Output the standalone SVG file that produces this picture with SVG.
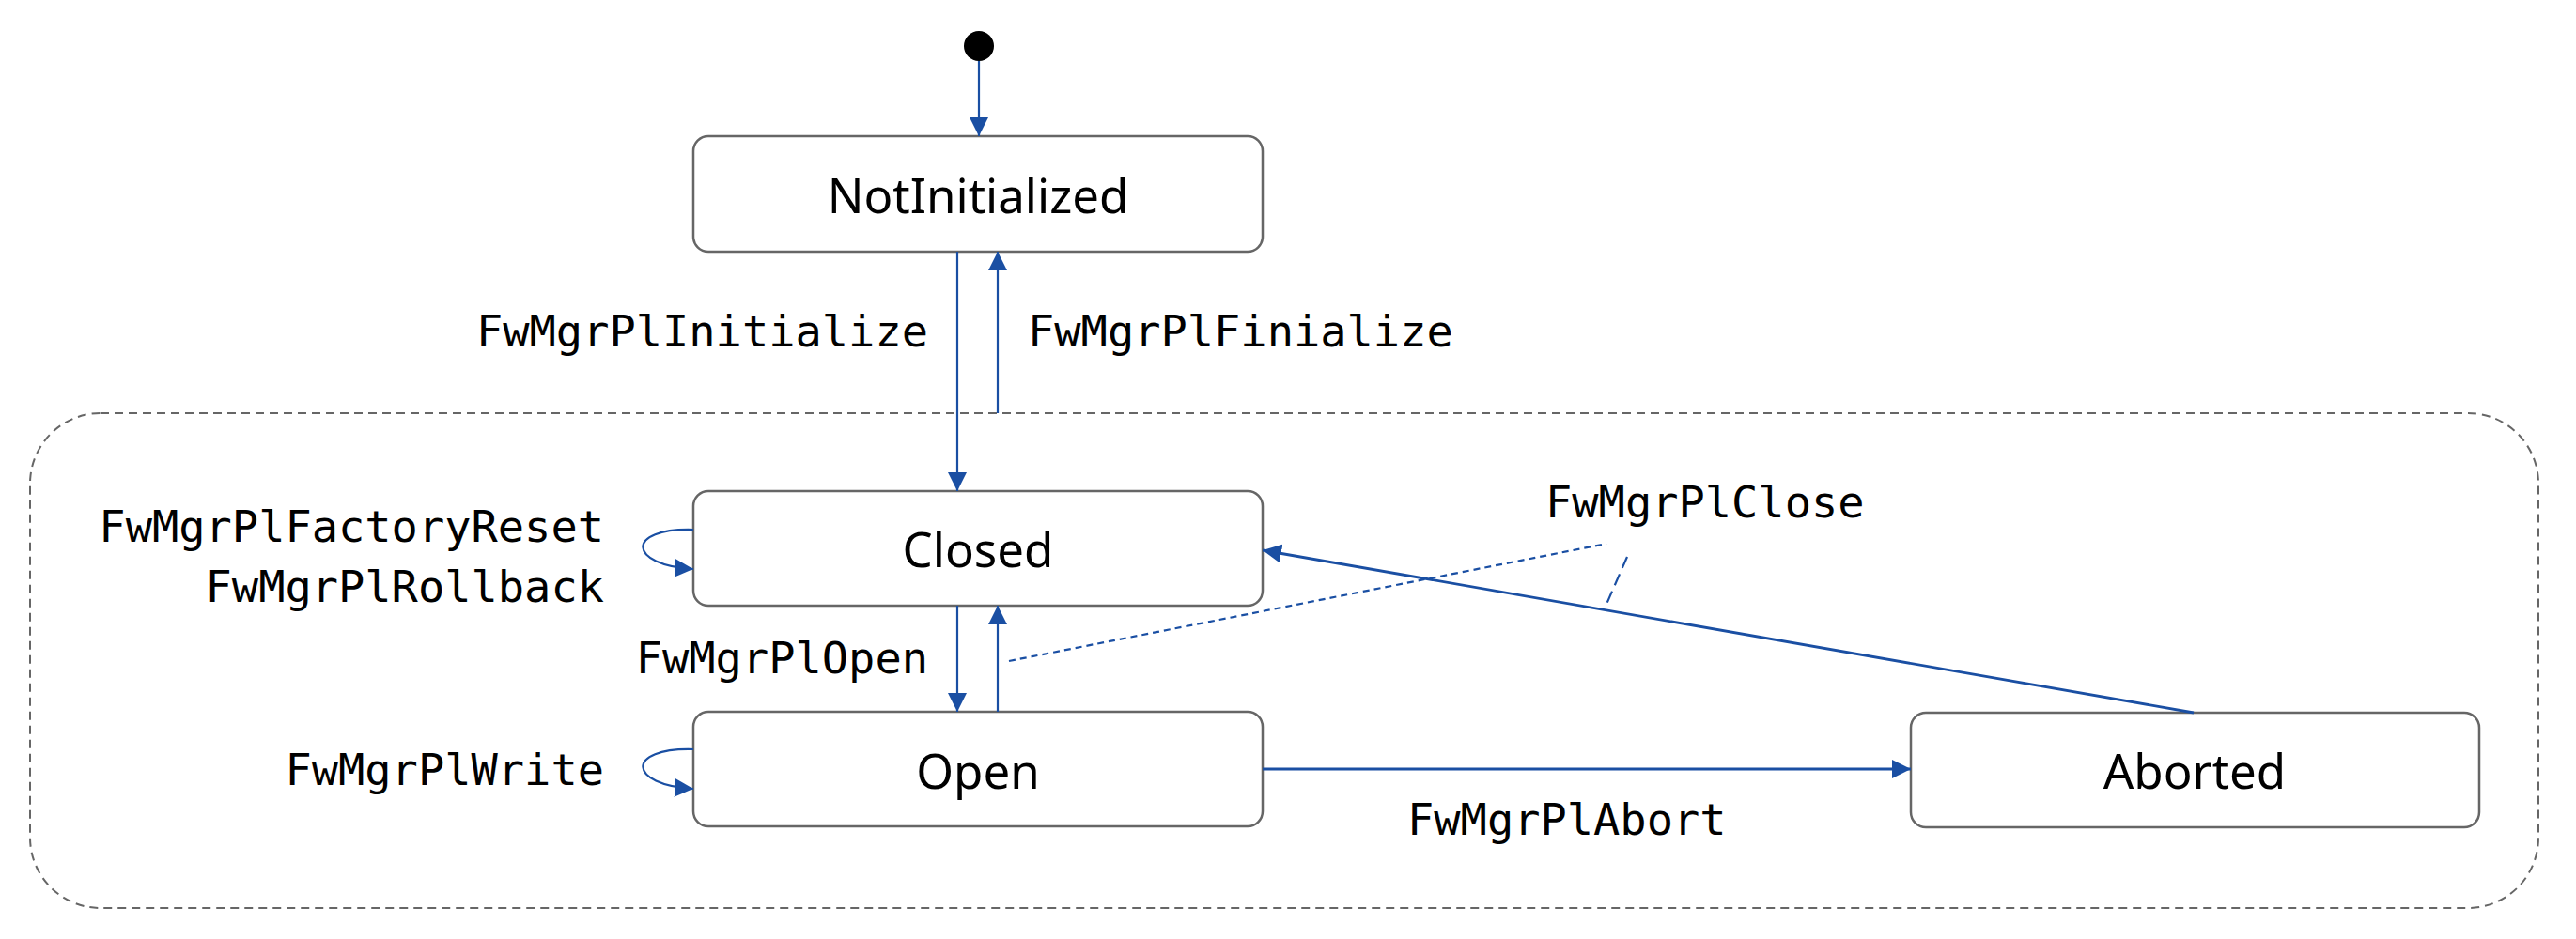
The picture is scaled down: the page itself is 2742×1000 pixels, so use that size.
<svg xmlns="http://www.w3.org/2000/svg" width="2742" height="1000" viewBox="0 0 2742 1000">
<style>
.state rect{fill:#fff;stroke:#666;stroke-width:2.5}
.state text{font-family:"Noto Sans","Open Sans",sans-serif;font-size:51px;fill:#000;text-anchor:middle}
.lbl{font-family:"DejaVu Sans Mono","Liberation Mono",monospace;font-size:47px;fill:#000}
.end{text-anchor:end}
.conn{fill:none;stroke:#1a4fa3;stroke-width:2.2}
.thick{stroke-width:2.8}
</style>
<defs>
<marker id="arr" markerWidth="20" markerHeight="20" refX="20" refY="10" orient="auto" markerUnits="userSpaceOnUse">
<path d="M0,0 L20,10 L0,20 Z" fill="#1a4fa3"/>
</marker>
</defs>
<rect id="composite" x="32" y="440" width="2670" height="527" rx="75" ry="75" fill="none" stroke="#666" stroke-width="2" stroke-dasharray="9 6"/>
<g id="initial"><circle cx="1042" cy="49" r="16" fill="#000"/></g>
<g id="NotInitialized" class="state"><rect x="738" y="145" width="606" height="123" rx="16"/><text x="1041" y="227">NotInitialized</text></g>
<g id="Closed" class="state"><rect x="738" y="523" width="606" height="122" rx="16"/><text x="1041" y="604">Closed</text></g>
<g id="Open" class="state"><rect x="738" y="758" width="606" height="122" rx="16"/><text x="1041" y="840">Open</text></g>
<g id="Aborted" class="state"><rect x="2034" y="759" width="605" height="122" rx="16"/><text x="2336" y="840">Aborted</text></g>
<g id="connectors">
<line class="conn" x1="1042" y1="65" x2="1042" y2="145" marker-end="url(#arr)"/>
<line class="conn" x1="1019" y1="268" x2="1019" y2="523" marker-end="url(#arr)"/>
<line class="conn" x1="1062" y1="440" x2="1062" y2="268" marker-end="url(#arr)"/>
<line class="conn" x1="1019" y1="645" x2="1019" y2="758" marker-end="url(#arr)"/>
<line class="conn" x1="1062" y1="758" x2="1062" y2="645" marker-end="url(#arr)"/>
<path class="conn" d="M738,564 C665,562 668,602 738,606" marker-end="url(#arr)"/>
<path class="conn" d="M738,798 C665,796 668,836 738,840" marker-end="url(#arr)"/>
<line class="conn thick" x1="1344" y1="819" x2="2034" y2="819" marker-end="url(#arr)"/>
<line class="conn thick" x1="2335" y1="759" x2="1344" y2="586" marker-end="url(#arr)"/>
<line class="conn" x1="1074" y1="704" x2="1710" y2="579" stroke-dasharray="7 5" stroke-width="2.6"/>
<line class="conn" x1="1732" y1="593" x2="1708" y2="648" stroke-dasharray="13 7" stroke-width="1.8"/>
</g>
<g id="labels">
<text class="lbl end" x="988" y="369">FwMgrPlInitialize</text>
<text class="lbl" x="1094" y="369">FwMgrPlFinialize</text>
<text class="lbl end" x="643" y="577">FwMgrPlFactoryReset</text>
<text class="lbl end" x="643" y="641">FwMgrPlRollback</text>
<text class="lbl end" x="988" y="717">FwMgrPlOpen</text>
<text class="lbl end" x="643" y="836">FwMgrPlWrite</text>
<text class="lbl" x="1645" y="551">FwMgrPlClose</text>
<text class="lbl" x="1498" y="889">FwMgrPlAbort</text>
</g>
</svg>
